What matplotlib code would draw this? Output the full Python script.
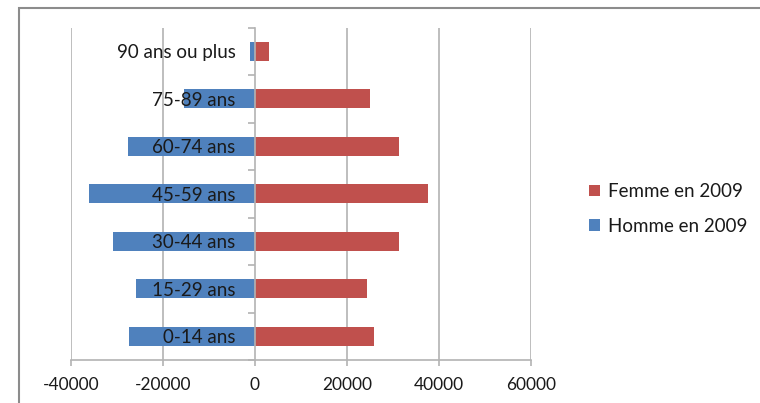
import matplotlib
matplotlib.use("Agg")
import matplotlib.pyplot as plt
from matplotlib.patches import Rectangle
from matplotlib.ticker import FixedLocator
import numpy as np

categories = ["0-14 ans", "15-29 ans", "30-44 ans", "45-59 ans", "60-74 ans", "75-89 ans", "90 ans ou plus"]
homme_2009 = [-27300, -25900, -30900, -36100, -27700, -15400, -1000]
femme_2009 = [25900, 24400, 31200, 37500, 31300, 24900, 3000]
x_ticks = [-40000, -20000, 0, 20000, 40000, 60000]

BLUE = "#4F81BD"
RED = "#C0504D"
GRID = "#B3B3B3"
TXT = "#1a1a1a"

plt.rcParams["font.family"] = ["Lato", "DejaVu Sans"]

W, H = 760, 403
fig = plt.figure(figsize=(W / 100, H / 100), dpi=100)
ax = fig.add_axes([71 / W, 43 / H, (531 - 71) / W, (360 - 27.5) / H])

ax.spines["left"].set_position(("data", 0))
ax.spines["left"].set_color(GRID)
ax.spines["left"].set_linewidth(1.2)
ax.spines["bottom"].set_color(GRID)
ax.spines["bottom"].set_linewidth(1.2)
ax.spines["top"].set_visible(False)
ax.spines["right"].set_visible(False)
ax.patch.set_visible(False)

pos = np.arange(len(categories))
ax.barh(pos, homme_2009, height=0.4, color=BLUE, zorder=1, label="Homme en 2009")
ax.barh(pos, femme_2009, height=0.4, color=RED, zorder=1, label="Femme en 2009")

ax.set_xlim(x_ticks[0], x_ticks[-1])
ax.set_ylim(-0.5, len(categories) - 0.5)
ax.set_xticks(x_ticks)
ax.set_xticklabels([str(v) for v in x_ticks])
ax.vlines([t for t in x_ticks if t != 0], -0.5, len(categories) - 0.5, colors=GRID, lw=1.2, zorder=0)

ax.set_yticks(pos)
ax.set_yticklabels(categories)
ax.yaxis.set_minor_locator(FixedLocator(np.arange(-0.5, len(categories), 1.0)))
ax.tick_params(axis="y", which="major", length=0, pad=14, labelsize=13.5, labelcolor=TXT)
ax.tick_params(axis="y", which="minor", length=5, color=GRID, width=1.2, direction="out")
ax.tick_params(axis="x", which="major", length=4, color=GRID, width=1.2, direction="out",
               pad=8, labelsize=12.5, labelcolor=TXT)

h, l = ax.get_legend_handles_labels()
leg = fig.legend([h[1], h[0]], [l[1], l[0]], loc="center left",
                 bbox_to_anchor=(572 / W, 1 - 209 / H), frameon=False,
                 fontsize=13.5, handlelength=0.6, handleheight=0.6,
                 handletextpad=0.4, labelspacing=0.95)
for t in leg.get_texts():
    t.set_color(TXT)

fig.patches.append(Rectangle((19 / W, -0.5), 2, 0.5 + 1 - 8 / H, transform=fig.transFigure,
                             fill=False, edgecolor="#8c8c8c", lw=1.5))

fig.savefig("out.png", dpi=100)
